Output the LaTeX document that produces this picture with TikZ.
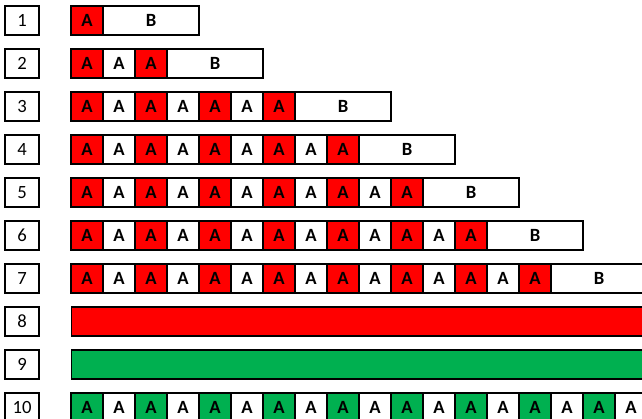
\documentclass[tikz,border=0pt]{standalone}
\usepackage{fontspec}
\setmainfont{Carlito}
\definecolor{xred}{HTML}{FF0000}
\definecolor{xgreen}{HTML}{00B050}
\begin{document}
\begin{tikzpicture}[x=0.75pt,y=-0.75pt,
  numbox/.style={draw, line width=1.1pt, minimum width=25.5pt, minimum height=21.75pt, inner sep=0pt, font=\fontsize{14}{14}\selectfont},
  cell/.style={draw, line width=1.1pt, minimum width=24pt, minimum height=21.75pt, inner sep=0pt, font=\fontsize{14}{14}\selectfont\bfseries},
  bbox/.style={cell, minimum width=72pt},
  bar/.style={draw, line width=1.1pt, minimum width=450pt, minimum height=21.75pt, inner sep=0pt, anchor=west}]
\useasboundingbox (0,0) rectangle (642,418);
\clip (0,0) rectangle (642,418);
\fill[white] (0,0) rectangle (642,418);
% row numbers
\foreach \r in {1,...,10} {
  \node[numbox] (n\r) at (22, {20.5+43*(\r-1)}) {\r};
}
% rows 1-7 (number of A cells per row)
\foreach \r/\n in {1/1,2/3,3/7,4/9,5/11,6/13,7/15} {
  \foreach \i in {1,...,\n} {
    \pgfmathtruncatemacro\odd{mod(\i,2)}
    \ifnum\odd=1 \def\fc{xred}\else\def\fc{white}\fi
    \node[cell, fill=\fc] (r\r-\i) at ({71+32*\i-16}, {20.5+43*(\r-1)}) {A};
  }
  \node[bbox] (r\r-b) at ({71+32*\n+48}, {20.5+43*(\r-1)}) {B};
}
% rows 8, 9
\node[bar, fill=xred] (bar8) at (71, {20.5+43*7}) {};
\node[bar, fill=xgreen] (bar9) at (71, {20.5+43*8}) {};
% row 10
\foreach \i in {1,...,18} {
  \pgfmathtruncatemacro\odd{mod(\i,2)}
  \ifnum\odd=1 \def\fc{xgreen}\else\def\fc{white}\fi
  \node[cell, fill=\fc] (r10-\i) at ({71+32*\i-16}, {20.5+43*9}) {A};
}
\end{tikzpicture}
\end{document}
